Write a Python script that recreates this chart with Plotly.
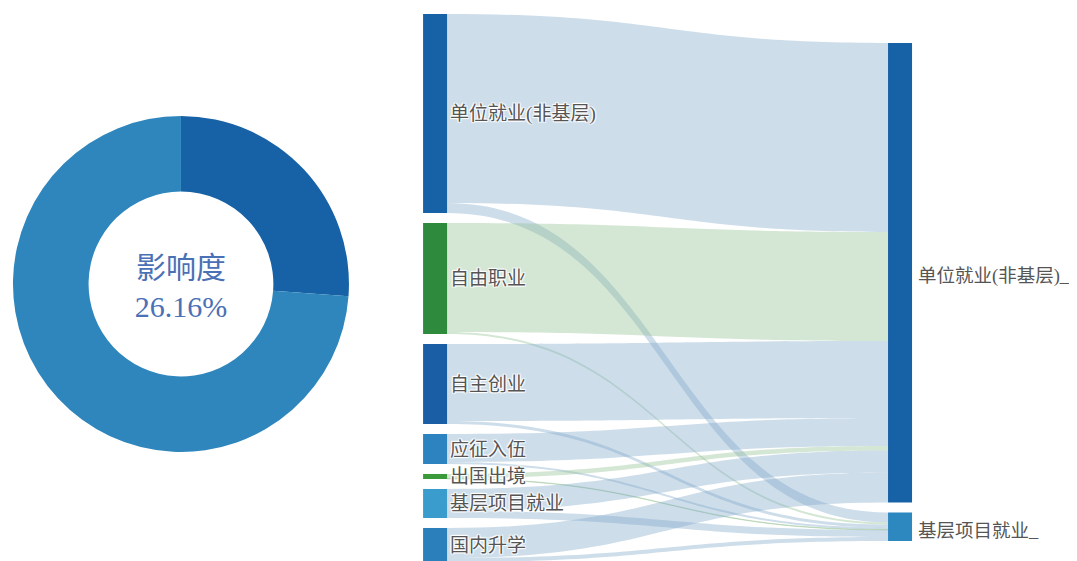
import plotly.graph_objects as go

# ---------------- data ----------------
# Donut
donut_labels = ["影响度", "其他"]
donut_values = [26.16, 73.84]
donut_colors = ["#1761a6", "#2e86bc"]
donut_center_text = "影响度<br>26.16%"

# Sankey
left_labels = ["单位就业(非基层)", "自由职业", "自主创业", "应征入伍", "出国出境", "基层项目就业", "国内升学"]
right_labels = ["单位就业(非基层)_", "基层项目就业_"]
left_colors = ["#1761a6", "#2e8b3e", "#1a5ea6", "#2d83bf", "#3a9a3a", "#3a9ccc", "#2b7fba"]
right_colors = ["#1761a6", "#2d88c0"]
# flows from each left node to [单位就业(非基层)_, 基层项目就业_]
to_unit = [189, 109, 77, 28, 4.5, 22, 30]
to_grass = [10, 2, 3, 2, 0.5, 7, 4]
left_is_green = [False, True, False, False, True, False, False]

# ---------------- figure ----------------
FIG_W, FIG_H = 1077, 561
label_font = "Liberation Serif, Noto Sans CJK SC, serif"
text_color = "#555555"

fig = go.Figure()

fig.add_trace(go.Pie(
    labels=donut_labels, values=donut_values,
    marker=dict(colors=donut_colors, line=dict(width=0)),
    hole=0.55, sort=False, direction="clockwise", rotation=0,
    textinfo="none", showlegend=False, hoverinfo="label+percent",
    domain=dict(x=[0.0046, 0.3166], y=[0.2086, 0.8075]),
    title=dict(text=donut_center_text, position="middle center",
               font=dict(family=label_font, size=30, color="#4a70b5")),
))

# sankey geometry
dom_x = [0.3854, 0.8394]
dom_y = [0.0125, 0.9893]
pad, thick = 10, 24
W = (dom_x[1] - dom_x[0]) * FIG_W
H = (dom_y[1] - dom_y[0]) * FIG_H

n_left = len(left_labels)
left_tot = [a + b for a, b in zip(to_unit, to_grass)]
right_tot = [sum(to_unit), sum(to_grass)]
ky = min((H - (n_left - 1) * pad) / sum(left_tot), (H - (len(right_tot) - 1) * pad) / sum(right_tot))

node_x, node_y = [], []
cum = 0.0
for i, v in enumerate(left_tot):
    node_x.append((thick / 2) / W)
    node_y.append((pad * i + ky * (cum + v / 2)) / H)
    cum += v
right_span = ky * sum(right_tot) + pad * (len(right_tot) - 1)
offset = (H - right_span) * 0.58
cum = 0.0
right_centers_px = []
for j, v in enumerate(right_tot):
    c = offset + pad * j + ky * (cum + v / 2)
    right_centers_px.append(c)
    node_x.append(1 - (thick / 2) / W)
    node_y.append(c / H)
    cum += v

sources, targets, values, lcolors = [], [], [], []
blue_link = "rgba(130,170,202,0.4)"
green_link = "rgba(147,192,147,0.4)"
for i in range(n_left):
    for j, vals in enumerate([to_unit, to_grass]):
        sources.append(i)
        targets.append(n_left + j)
        values.append(vals[i])
        lcolors.append(green_link if left_is_green[i] else blue_link)

fig.add_trace(go.Sankey(
    arrangement="fixed",
    domain=dict(x=dom_x, y=dom_y),
    node=dict(label=left_labels + ["" for _ in right_labels],
              color=left_colors + right_colors,
              x=node_x, y=node_y,
              thickness=thick, pad=pad, line=dict(width=0)),
    link=dict(source=sources, target=targets, value=values, color=lcolors),
    textfont=dict(family=label_font, size=19, color=text_color),
))

# right-column labels, placed to the right of their nodes
top_px = (1 - dom_y[1]) * FIG_H
for lab, c in zip(right_labels, right_centers_px):
    fig.add_annotation(text=lab, x=dom_x[1] + 4 / FIG_W, y=1 - (top_px + c + 4) / FIG_H,
                       xref="paper", yref="paper", xanchor="left", yanchor="middle",
                       showarrow=False, font=dict(family=label_font, size=18.5, color=text_color))

fig.update_layout(width=FIG_W, height=FIG_H, margin=dict(l=0, r=0, t=0, b=0),
                  paper_bgcolor="white", plot_bgcolor="white")

fig.write_html("out.html")
